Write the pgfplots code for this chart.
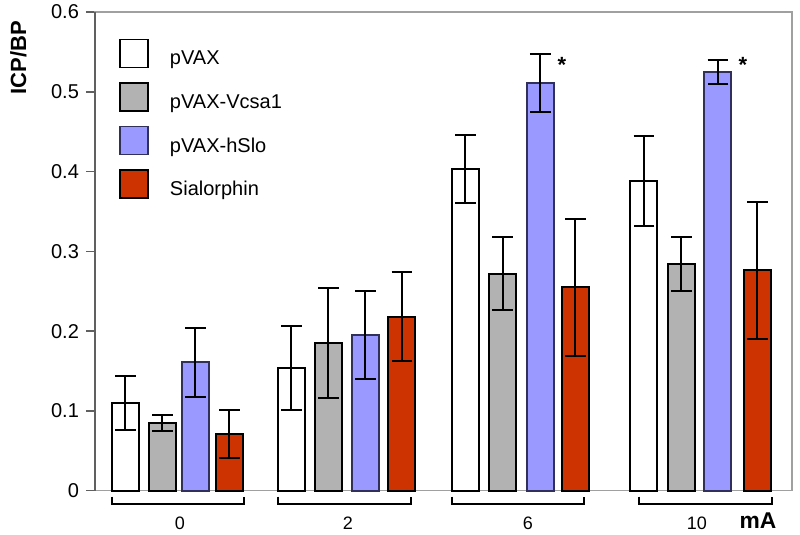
\documentclass[border=0pt]{standalone}
\usepackage{pgfplots}
\pgfplotsset{compat=1.18}
\usepackage{pgfplotstable}
\usepackage{fontspec}
\setmainfont{Liberation Sans}

\definecolor{barblue}{HTML}{9999FF}
\definecolor{bargray}{HTML}{B2B2B2}
\definecolor{barred}{HTML}{CC3300}
\definecolor{axgray}{HTML}{A0A0A0}
\definecolor{axdark}{HTML}{606060}

% x = bar centre (pixel column of the reference), y = ICP/BP, err = SE
\pgfplotstableread{
x     y      err
125.5 0.110  0.034
291.5 0.154  0.053
465.5 0.403  0.043
644.0 0.388  0.056
}\pvax
\pgfplotstableread{
x     y      err
162.5 0.085  0.010
328.5 0.185  0.069
502.7 0.272  0.046
681.5 0.284  0.034
}\vcsa
\pgfplotstableread{
x     y      err
195.5 0.161  0.043
365.5 0.195  0.055
540.3 0.511  0.036
718.0 0.525  0.015
}\hslo
\pgfplotstableread{
x     y      err
229.5 0.071  0.030
402.0 0.218  0.056
575.5 0.255  0.086
757.5 0.276  0.086
}\sial

\pgfplotsset{
  icpbar/.style={ybar, bar width=27, bar shift=0pt, line width=1pt,
    error bars/.cd, y dir=both, y explicit,
      error bar style={line width=1pt, black},
      error mark options={rotate=90, line width=1pt, black, mark size=5.2pt},
    /pgfplots/.cd,
    legend image code/.code={\draw[##1, line width=0.8pt] (0pt,-4pt) rectangle (14pt,10pt);}},
}

\begin{document}
\begin{tikzpicture}
\begin{axis}[
    scale only axis,
    width=348.5pt, height=239.35pt,
    xmin=95, xmax=792, ymin=0, ymax=0.6,
    clip=false,
    axis line style={axgray, line width=0.8pt},
    ytick={0,0.1,0.2,0.3,0.4,0.5,0.6},
    yticklabels={0,0.1,0.2,0.3,0.4,0.5,0.6},
    ytick pos=left, tick align=outside, major tick length=4.5pt,
    ytick style={axdark, line width=0.8pt},
    xtick={180,348,528,697}, xticklabels={0,2,6,10},
    xtick style={draw=none},
    yticklabel style={font=\fontsize{10}{12}\selectfont},
    xticklabel style={font=\fontsize{9}{11}\selectfont, anchor=base, yshift=-15pt},
    ylabel={\textbf{ICP/BP}},
    ylabel style={at={(rel axis cs:-0.1098,0.905)}, anchor=center, font=\fontsize{11}{13}\selectfont},
    legend style={at={(axis cs:119,0.567)}, anchor=north west, draw=none, fill=none,
      inner sep=0pt, row sep=6.9pt, column sep=10.5pt, nodes={inner sep=0pt},
      font=\fontsize{10}{12}\selectfont},
    legend cell align=left,
]
\addplot[icpbar, fill=white, draw=black] table[x=x, y=y, y error=err] {\pvax};
\addlegendentry{pVAX}
\addplot[icpbar, fill=bargray, draw=black] table[x=x, y=y, y error=err] {\vcsa};
\addlegendentry{pVAX-Vcsa1}
\addplot[icpbar, fill=barblue, draw={rgb,255:red,48;green,48;blue,90}] table[x=x, y=y, y error=err] {\hslo};
\addlegendentry{pVAX-hSlo}
\addplot[icpbar, fill=barred, draw=black] table[x=x, y=y, y error=err] {\sial};
\addlegendentry{Sialorphin}

\draw[axdark, line width=0.8pt] (rel axis cs:0,0) -- (rel axis cs:0,1);

% group brackets
\draw[black, line width=1pt] (axis cs:112,-0.0075) -- (axis cs:112,-0.0167) -- (axis cs:244,-0.0167) -- (axis cs:244,-0.0075);
\draw[black, line width=1pt] (axis cs:278,-0.0075) -- (axis cs:278,-0.0167) -- (axis cs:411,-0.0167) -- (axis cs:411,-0.0075);
\draw[black, line width=1pt] (axis cs:452,-0.0075) -- (axis cs:452,-0.0167) -- (axis cs:584,-0.0167) -- (axis cs:584,-0.0075);
\draw[black, line width=1pt] (axis cs:639,-0.0075) -- (axis cs:639,-0.0167) -- (axis cs:772,-0.0167) -- (axis cs:772,-0.0075);

\node[anchor=base, font=\bfseries\fontsize{11.4}{13}\selectfont] at (axis cs:758,-0.0471) {mA};
\node[anchor=base, font=\bfseries\fontsize{11}{13}\selectfont] at (axis cs:562,0.524) {*};
\node[anchor=base, font=\bfseries\fontsize{11}{13}\selectfont] at (axis cs:743,0.524) {*};
\end{axis}
\pgfresetboundingbox
\useasboundingbox (-47.5pt,-22.15pt) rectangle (352.5pt,245.35pt);
\end{tikzpicture}
\end{document}
